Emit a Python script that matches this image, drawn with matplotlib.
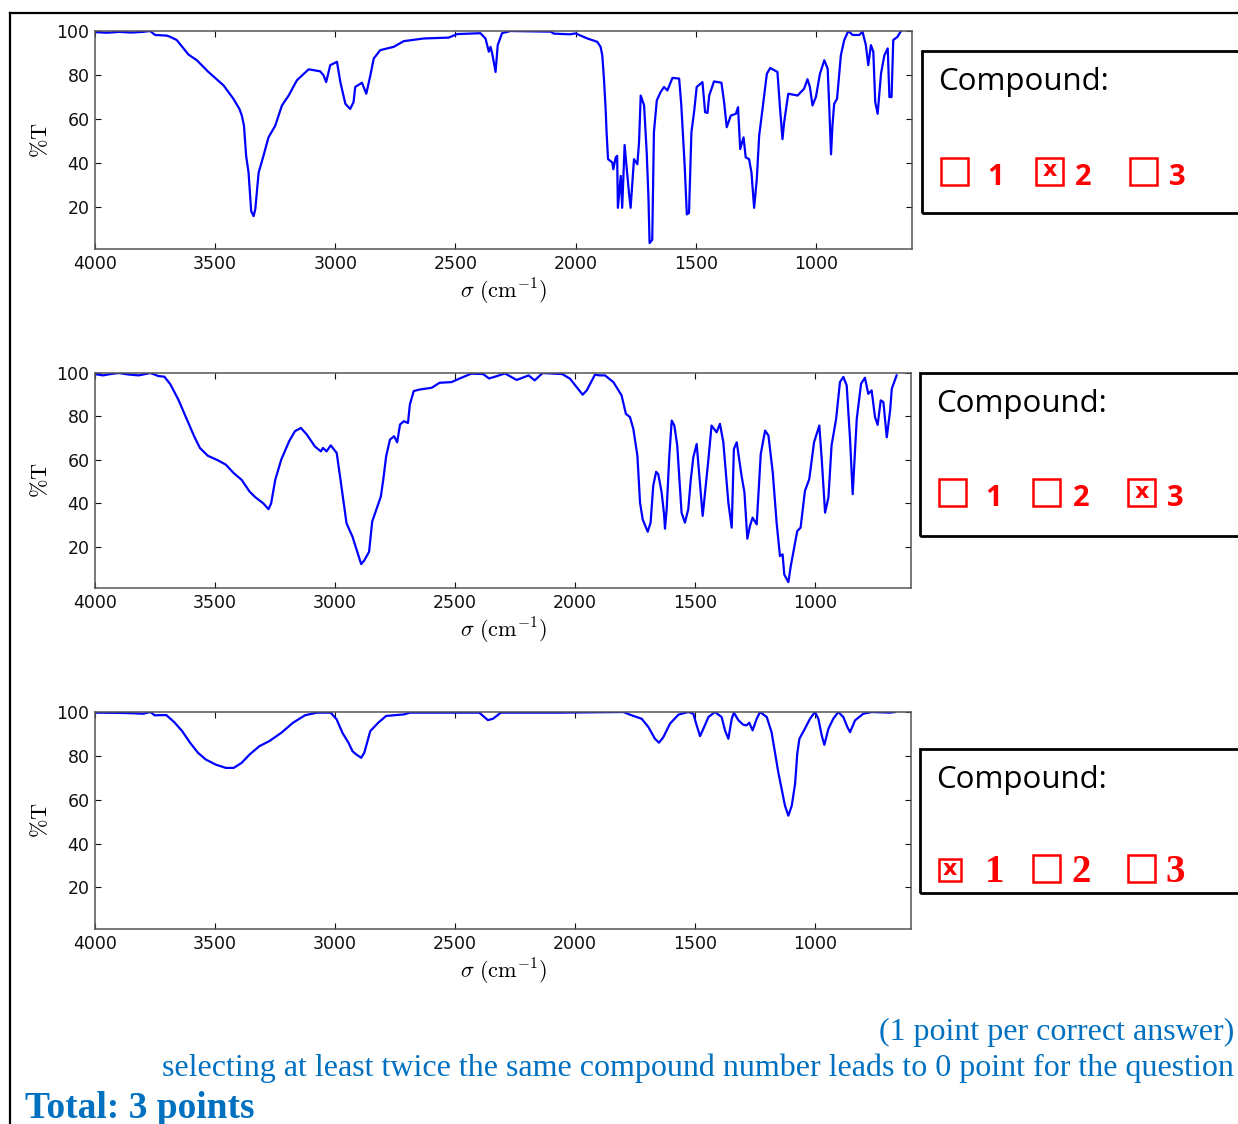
import numpy as np
import matplotlib
matplotlib.use('Agg')
import matplotlib.pyplot as plt
from matplotlib.patches import Rectangle
from matplotlib.lines import Line2D

# ---------------------------------------------------------------------------
#  Data: (wavenumber cm-1, %T)
# ---------------------------------------------------------------------------
spec1 = [(4000, 99.5), (3950, 99.2), (3900, 99.6), (3850, 99.3), (3800, 99.6), (3771, 100),
         (3750, 98.2), (3701, 97.9), (3688, 97.4), (3660, 95.9), (3611, 89.3), (3576, 86.7),
         (3528, 81.4), (3465, 75.3), (3424, 69.2), (3399, 64.6), (3389, 61.6), (3380, 57),
         (3371, 43.3), (3361, 35.7), (3356, 28), (3350, 18.2), (3340, 15.9), (3333, 19),
         (3319, 35.7), (3299, 43.3), (3278, 51.7), (3250, 57), (3222, 66.2), (3194, 70.7),
         (3160, 77.6), (3111, 82.6), (3063, 81.7), (3049, 79.9), (3038, 76.8), (3021, 84.5),
         (2993, 86), (2979, 76.8), (2958, 66.9), (2938, 64.6), (2924, 67.7), (2917, 74.6),
         (2889, 76.5), (2871, 71.5), (2854, 79.9), (2840, 87.5), (2813, 91.3), (2757, 92.8),
         (2715, 95.4), (2632, 96.6), (2528, 97), (2493, 98.6), (2396, 99), (2375, 96.6),
         (2361, 90.6), (2354, 92.8), (2347, 89.8), (2333, 81.4), (2324, 93.6), (2306, 99),
         (2271, 100), (2104, 99.7), (2090, 98.8), (2024, 98.5), (2000, 98.9), (1951, 96.6),
         (1910, 95.1), (1896, 92.8), (1889, 89), (1882, 78.4), (1875, 64.6), (1871, 53.9),
         (1865, 41.8), (1847, 40.3), (1843, 37.2), (1833, 42.6), (1827, 43.3), (1824, 19.7),
         (1812, 34.2), (1806, 19.7), (1796, 48.2), (1787, 37.2), (1778, 26.6), (1771, 19.7),
         (1757, 41.8), (1743, 39.5), (1736, 49.4), (1729, 70.7), (1715, 66.2), (1704, 44.8),
         (1697, 25), (1692, 3.7), (1681, 5.2), (1674, 54), (1662, 68.5), (1646, 72.3),
         (1632, 74.6), (1618, 73), (1597, 78.7), (1569, 78.4), (1560, 66.2), (1546, 38.7),
         (1537, 16.7), (1528, 17.4), (1518, 54), (1507, 63.1), (1496, 74.6), (1472, 76.8),
         (1461, 63.1), (1451, 62.8), (1444, 70.7), (1424, 77.1), (1393, 76.5), (1382, 67.7),
         (1371, 56.3), (1354, 61.6), (1333, 62.4), (1324, 65.4), (1315, 46.4), (1301, 51.7),
         (1292, 42.6), (1278, 41.8), (1268, 35.7), (1257, 19.7), (1246, 32.6), (1236, 52.5),
         (1222, 64.6), (1204, 80.6), (1190, 83.2), (1160, 81.4), (1149, 64.6), (1139, 50.9),
         (1132, 58.6), (1115, 71.5), (1076, 70.7), (1049, 73.8), (1035, 78.1), (1025, 74.6),
         (1014, 66.2), (1000, 70), (983, 80.6), (965, 86.7), (951, 82.9), (944, 64.6),
         (937, 44), (931, 57), (924, 66.9), (912, 69.2), (896, 89), (882, 95.9), (865, 100),
         (847, 98.2), (819, 98.2), (806, 99.7), (792, 93.6), (782, 84.5), (771, 93.6),
         (761, 90.6), (753, 67.7), (743, 62.4), (729, 80.6), (715, 89), (701, 92.1),
         (694, 70), (685, 70), (678, 95.9), (660, 97.4), (646, 100)]

spec2 = [(4000, 99.5), (3967, 98.9), (3930, 99.6), (3901, 100), (3860, 99.3), (3818, 98.9),
         (3769, 100), (3736, 98.6), (3711, 98.3), (3686, 94.8), (3653, 87.8), (3620, 79.3),
         (3587, 70.9), (3563, 65.5), (3530, 61.9), (3488, 59.8), (3455, 57.8), (3422, 53.9),
         (3389, 50.8), (3356, 45.4), (3332, 42.8), (3299, 40), (3277, 37.3), (3266, 40),
         (3249, 50.8), (3224, 60.1), (3191, 68.6), (3167, 73.2), (3142, 74.7), (3117, 71.6),
         (3084, 66.2), (3059, 63.9), (3050, 65.5), (3035, 63.9), (3018, 66.7), (2993, 63.2),
         (2977, 50.8), (2952, 30.8), (2927, 24.6), (2903, 16.1), (2891, 12), (2878, 13.7),
         (2858, 17.7), (2845, 31.6), (2828, 37), (2809, 43.1), (2799, 50.8), (2787, 61.6),
         (2771, 69.3), (2754, 70.9), (2741, 68.1), (2729, 76.3), (2713, 77.8), (2696, 77),
         (2688, 85.5), (2672, 91.7), (2647, 92.4), (2597, 93.2), (2564, 95.5), (2515, 95.8),
         (2482, 97.4), (2432, 99.7), (2383, 99.5), (2358, 97.5), (2333, 98.3), (2292, 99.8),
         (2243, 96.8), (2193, 98.9), (2168, 96.6), (2135, 100), (2053, 99.5), (2021, 97.4),
         (1993, 93.5), (1968, 90), (1951, 92), (1917, 99.2), (1896, 98.9), (1875, 98.9),
         (1840, 95.8), (1806, 89.7), (1788, 81.2), (1771, 79.7), (1757, 74.3), (1740, 61.9),
         (1729, 40.3), (1718, 32.6), (1697, 26.9), (1685, 31.1), (1674, 48.1), (1662, 54.5),
         (1653, 53.4), (1639, 45), (1629, 35), (1625, 28.3), (1618, 37.3), (1607, 61.9),
         (1597, 78.1), (1586, 75.8), (1574, 66.6), (1565, 51.2), (1556, 35.7), (1542, 31.1),
         (1528, 37.3), (1518, 50.4), (1507, 61.2), (1493, 67.3), (1482, 52.7), (1468, 34.2),
         (1454, 49.6), (1444, 60.4), (1431, 75.8), (1410, 72.7), (1396, 76.6), (1382, 68.1),
         (1361, 40.3), (1347, 28.8), (1338, 65), (1326, 68.1), (1306, 52.7), (1294, 45),
         (1282, 23.7), (1271, 29.6), (1260, 33.4), (1243, 30.3), (1226, 62.7), (1208, 73.5),
         (1194, 71.2), (1176, 54.2), (1160, 31.1), (1146, 15.7), (1135, 16.5), (1128, 7.2),
         (1111, 3.7), (1101, 11.1), (1087, 19.5), (1074, 27.2), (1060, 28.8), (1042, 45.7),
         (1024, 51.1), (1004, 68.1), (982, 75.8), (972, 60.4), (958, 35.7), (944, 42.7),
         (931, 66.6), (912, 78.9), (896, 95.8), (882, 98.2), (868, 94.3), (854, 69.6),
         (843, 44.2), (826, 78.9), (808, 95.1), (792, 97.8), (778, 90.4), (764, 92),
         (750, 79.7), (739, 76.1), (726, 87.4), (715, 86.6), (701, 70.4), (687, 82.7),
         (680, 92.8), (660, 98.9)]

spec3 = [(4000, 99.7), (3900, 99.6), (3835, 99.4), (3800, 99.2), (3769, 100), (3752, 98.5),
         (3703, 98.6), (3670, 95.4), (3637, 91.3), (3604, 86), (3571, 81.4), (3538, 78.3),
         (3497, 76), (3455, 74.5), (3422, 74.5), (3389, 76.8), (3356, 80.6), (3315, 84.4),
         (3274, 86.7), (3224, 90.5), (3175, 95.1), (3125, 98.5), (3076, 99.7), (3018, 99.7),
         (2993, 96.6), (2969, 90.5), (2944, 86), (2927, 82.1), (2911, 80.6), (2891, 79.1),
         (2878, 81.4), (2853, 91.3), (2820, 95.1), (2787, 98.2), (2713, 98.9), (2688, 99.7),
         (2399, 99.7), (2383, 98.2), (2363, 96.3), (2342, 96.9), (2309, 99.7), (2062, 99.7),
         (1799, 100), (1764, 98.5), (1722, 96.9), (1694, 93.1), (1667, 87.8), (1650, 86),
         (1632, 88.5), (1604, 94.7), (1569, 98.8), (1528, 100), (1507, 99.2), (1493, 93.9),
         (1479, 89), (1465, 92.4), (1444, 97.7), (1417, 100), (1389, 97.7), (1375, 91.6),
         (1361, 87.8), (1347, 96.9), (1338, 99.7), (1319, 96.2), (1299, 94.2), (1285, 93.9),
         (1274, 95.1), (1260, 91.6), (1243, 96.9), (1229, 100), (1201, 97.7), (1181, 90.8),
         (1167, 81.7), (1153, 72.5), (1139, 64.9), (1125, 57.2), (1111, 52.7), (1097, 57.2),
         (1083, 67.2), (1074, 80.9), (1065, 87.8), (1042, 92.4), (1021, 96.9), (1000, 100),
         (986, 96.9), (972, 89.3), (961, 85), (944, 92.4), (924, 96.9), (903, 100),
         (882, 97.7), (865, 93.1), (854, 90.8), (833, 96.2), (799, 99.2), (764, 100),
         (687, 99.7), (667, 100)]

spectra = [spec1, spec2, spec3]
xticks = [4000, 3500, 3000, 2500, 2000, 1500, 1000]
yticks = [20, 40, 60, 80, 100]
choices = ['1', '2', '3']
answers = [2, 3, 1]          # ticked box in each panel

footer1 = '(1 point per correct answer)'
footer2 = 'selecting at least twice the same compound number leads to 0 point for the question'
footer3 = 'Total: 3 points'

# ---------------------------------------------------------------------------
#  Layout (pixel frame of the 1238x1124 page)
# ---------------------------------------------------------------------------
W, H = 1238, 1124
fx = lambda px: px / W
fy = lambda py: 1 - py / H

axes_px = [(95, 31, 912, 249), (95, 373, 911, 588), (95, 712, 911, 929)]
box_px = [(922, 51, 213), (920, 373, 536), (920, 749, 893)]
title_pos = [(938, 90), (936, 412), (936, 788)]
row_base = [185, 506, 882]
cb_left = [[941, 1036, 1130], [939, 1033, 1128], [939, 1033, 1128]]
num_left = [[987, 1075, 1169], [985, 1073, 1167], [985, 1071, 1165]]

BLUE = '#0000ff'
RED = '#ff0000'
NOTE = '#0070c0'

plt.rcParams['mathtext.fontset'] = 'cm'
fig = plt.figure(figsize=(W / 100, H / 100), dpi=100)

for k, (spec, (l, t, r, b)) in enumerate(zip(spectra, axes_px)):
    wn = np.array([p[0] for p in spec])
    tr = np.array([p[1] for p in spec])
    ax = fig.add_axes([fx(l), fy(b), (r - l) / W, (b - t) / H])
    ax.plot(wn, tr, color=BLUE, lw=1.6)
    ax.set_xlim(4000, 600)
    ax.set_ylim(1, 100)
    ax.set_xticks(xticks)
    ax.set_yticks(yticks)
    ax.tick_params(direction='in', top=True, right=True, length=4, width=0.8,
                   labelsize=12.5, pad=4, colors='#111111')
    for sp in ax.spines.values():
        sp.set_color('#555555')
        sp.set_linewidth(1.1)
    ax.set_ylabel(r'$\%\mathrm{T}$', fontsize=16)
    ax.yaxis.label.set_va('center')
    ax.yaxis.set_label_coords((40 - l) / (r - l), 0.5)
    ax.set_xlabel(r'$\sigma\ (\mathrm{cm}^{-1})$', fontsize=16)
    ax.xaxis.label.set_va('center')
    ax.xaxis.set_label_coords((503 - l) / (r - l), -43 / (b - t))

    # answer box on the right
    bx, bt, bb = box_px[k]
    fig.patches.append(Rectangle((fx(bx), fy(bb)), fx(1300 - bx), (bb - bt) / H,
                                 transform=fig.transFigure, fill=False,
                                 edgecolor='black', lw=2))
    tx, ty = title_pos[k]
    fig.text(fx(tx), fy(ty), 'Compound:', fontsize=22.5, family='Open Sans',
             ha='left', va='baseline')
    base = row_base[k]
    for j, c in enumerate(choices):
        checked = (j + 1) == answers[k]
        size = 22 if (checked and k == 2) else 27
        x0 = cb_left[k][j]
        y0 = base - 1 if (checked and k == 2) else base
        fig.patches.append(Rectangle((fx(x0), fy(y0)), size / W, size / H,
                                     transform=fig.transFigure, fill=False,
                                     edgecolor=RED, lw=1.8))
        if checked:
            fig.text(fx(x0 + size / 2), fy(y0 - size / 2 - 1), 'x', color=RED,
                     fontsize=16, fontweight='bold', ha='center', va='center')
        if k == 2:
            fig.text(fx(num_left[k][j]), fy(base), c, color=RED, fontsize=28,
                     family='Liberation Serif', fontweight='bold',
                     ha='left', va='baseline')
        else:
            fig.text(fx(num_left[k][j]), fy(base), c, color=RED, fontsize=21,
                     family='Open Sans', fontweight='bold', ha='left', va='baseline')

# page frame
fig.lines.append(Line2D([fx(10), fx(10)], [fy(13), fy(1124)], transform=fig.transFigure,
                        color='black', lw=1.6))
fig.lines.append(Line2D([fx(10), fx(1238)], [fy(13), fy(13)], transform=fig.transFigure,
                        color='black', lw=1.6))

fig.text(fx(1234), fy(1040), footer1, color=NOTE, fontsize=23,
         family='Liberation Serif', ha='right', va='baseline')
fig.text(fx(1234), fy(1076), footer2, color=NOTE, fontsize=23,
         family='Liberation Serif', ha='right', va='baseline')
fig.text(fx(25), fy(1118), footer3, color=NOTE, fontsize=27, fontweight='bold',
         family='Liberation Serif', ha='left', va='baseline')

fig.savefig('out.png', dpi=100)
